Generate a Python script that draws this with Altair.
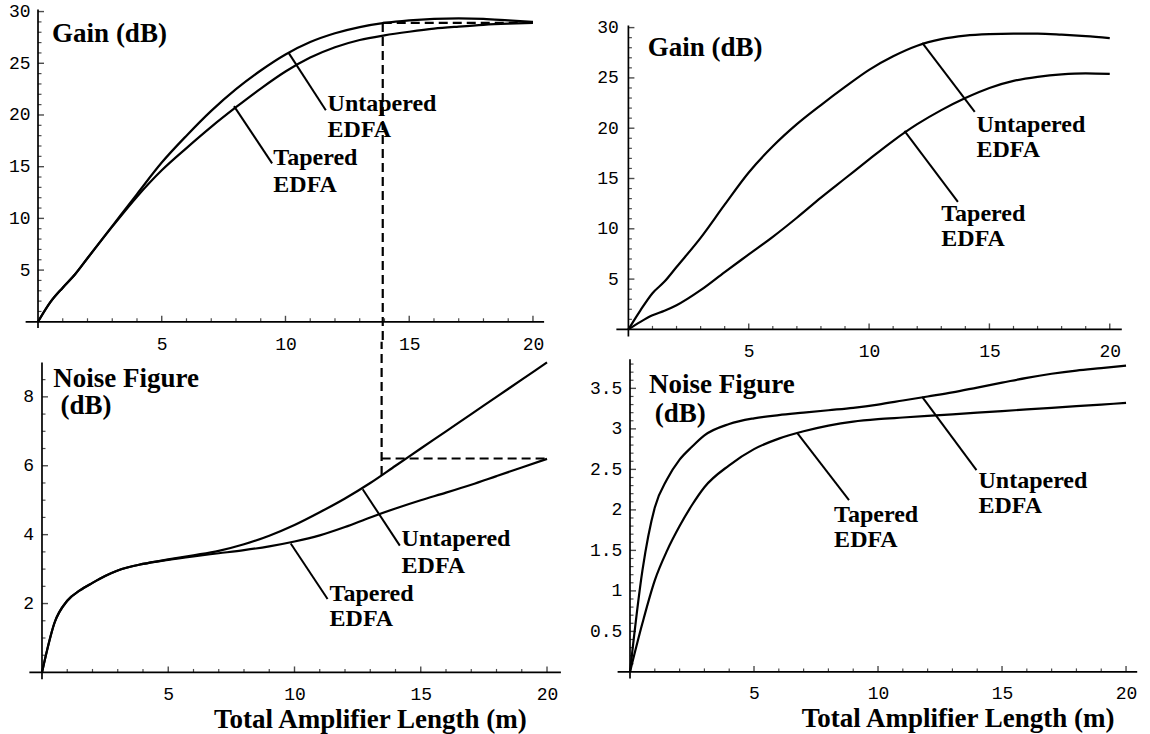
import altair as alt
import pandas as pd

SERIF = "Liberation Serif"
MONO = "Liberation Mono"

# ---------------- data ----------------
# Top-left: Gain (dB) vs total amplifier length (m)
gl_x = [0, 0.5, 1, 1.5, 2, 3, 4, 5, 6, 7, 8, 9, 10, 11, 12, 13, 14, 15, 16, 17, 18, 19, 20]
gl_untapered = [0, 1.9, 3.3, 4.6, 6.15, 9.25, 12.35, 15.4, 18.0, 20.4, 22.5, 24.3, 25.85, 27.05,
                27.9, 28.5, 28.9, 29.15, 29.3, 29.35, 29.3, 29.15, 29.0]
gl_tapered = [0, 1.9, 3.3, 4.6, 6.15, 9.2, 12.1, 14.65, 16.8, 18.85, 20.75, 22.55, 24.2, 25.55,
              26.55, 27.25, 27.7, 28.05, 28.35, 28.55, 28.72, 28.83, 28.9]

# Bottom-left: Noise figure (dB)
nl_x = [0, 0.5, 1, 1.5, 2, 2.5, 3, 4, 5, 6, 7, 8, 9, 10, 11, 12, 13, 14, 15, 16, 17, 18, 19, 20]
nl_untapered = [0, 1.45, 2.08, 2.38, 2.6, 2.8, 2.96, 3.15, 3.28, 3.4, 3.53, 3.72, 3.97, 4.28, 4.65,
                5.05, 5.5, 6.0, 6.5, 7.0, 7.5, 8.0, 8.5, 9.0]
nl_tapered = [0, 1.45, 2.08, 2.38, 2.6, 2.8, 2.96, 3.15, 3.27, 3.37, 3.46, 3.55, 3.66, 3.8, 3.98,
              4.22, 4.5, 4.76, 5.0, 5.22, 5.45, 5.7, 5.95, 6.2]

# Top-right: Gain (dB)
gr_x = [0, 0.5, 1, 1.5, 2, 3, 4, 5, 6, 7, 8, 9, 10, 11, 12, 13, 14, 15, 16, 17, 18, 19, 20]
gr_untapered = [0, 1.9, 3.6, 4.75, 6.2, 9.1, 12.4, 15.6, 18.2, 20.4, 22.3, 24.1, 25.8, 27.15,
                28.2, 28.85, 29.2, 29.35, 29.4, 29.4, 29.3, 29.15, 28.95]
gr_tapered = [0, 0.75, 1.4, 1.85, 2.4, 3.9, 5.7, 7.45, 9.2, 11.1, 13.1, 15.0, 16.9, 18.75, 20.4,
              21.8, 23.0, 24.0, 24.7, 25.1, 25.35, 25.45, 25.4]

# Bottom-right: Noise figure (dB)
nr_x = [0, 0.5, 1, 1.5, 2, 2.5, 3, 4, 5, 6, 7, 8, 9, 10, 11, 12, 13, 14, 15, 16, 17, 18, 19, 20]
nr_untapered = [0, 1.25, 2.03, 2.38, 2.62, 2.78, 2.92, 3.06, 3.13, 3.17, 3.2, 3.23, 3.26, 3.3,
                3.35, 3.4, 3.45, 3.51, 3.57, 3.63, 3.68, 3.72, 3.75, 3.78]
nr_tapered = [0, 0.6, 1.13, 1.5, 1.8, 2.06, 2.28, 2.55, 2.75, 2.88, 2.97, 3.04, 3.09, 3.12, 3.14,
              3.16, 3.18, 3.2, 3.22, 3.24, 3.26, 3.28, 3.3, 3.32]

# tick values
x_major = [5, 10, 15, 20]
x_minor = [v for v in range(1, 21) if v % 5]
gain_major = [5, 10, 15, 20, 25, 30]
gain_minor = [v for v in range(1, 31) if v % 5]
nfl_major = [2, 4, 6, 8]
nfl_minor = [v / 2 for v in range(1, 18) if v % 4]
nfr_major = [0.5, 1, 1.5, 2, 2.5, 3, 3.5]
nfr_minor = [v / 10 for v in range(1, 39) if v % 5]

# optimum-length guide (dashed): gain panel / noise panel
opt_len_gain = 13.93
opt_len_nf = 13.45
opt_gain = 28.9
opt_nf = 6.21
nf_at_opt = 5.73


def curves_df(xs, unt, tap):
    rows = [{"x": a, "y": b, "series": "Untapered"} for a, b in zip(xs, unt)]
    rows += [{"x": a, "y": b, "series": "Tapered"} for a, b in zip(xs, tap)]
    return pd.DataFrame(rows)


def panel(df, xdom, ydom, w, h, xmaj, xmin, ymaj, ymin, xline, yline,
          heads, notes, leaders, dashes=None, axis_title=None, xlabpad=14, ylabpad=8):
    xs = alt.Scale(domain=xdom, nice=False, zero=False)
    ys = alt.Scale(domain=ydom, nice=False, zero=False)
    common = dict(title=None, domain=False, ticks=False, tickSize=0, grid=False,
                  labelFont=MONO, labelFontSize=18, labelColor="black", format="~g",
                  labelFlush=False, labelOverlap=False)
    X = alt.X("x:Q", scale=xs, axis=alt.Axis(values=xmaj, labelPadding=xlabpad, **common))
    Y = alt.Y("y:Q", scale=ys, axis=alt.Axis(values=ymaj, labelPadding=ylabpad, **common))

    layers = []
    layers.append(alt.Chart(df).mark_line(color="black", strokeWidth=2.2, interpolate="monotone")
                  .encode(x=X, y=Y, detail="series:N"))
    # axis lines
    ax = pd.DataFrame([
        {"x": xline[0], "x2": xline[1], "y": 0, "y2": 0},
        {"x": 0, "x2": 0, "y": yline[0], "y2": yline[1]},
    ])
    layers.append(alt.Chart(ax).mark_rule(color="black", strokeWidth=1.7)
                  .encode(x=X, y=Y, x2="x2:Q", y2="y2:Q"))
    # ticks (pointing inward)
    layers.append(alt.Chart(pd.DataFrame({"x": xmaj, "y": 0})).mark_tick(
        orient="vertical", size=6, thickness=1.4, color="black", yOffset=-3).encode(x=X, y=Y))
    layers.append(alt.Chart(pd.DataFrame({"x": xmin, "y": 0})).mark_tick(
        orient="vertical", size=3.5, thickness=1.2, color="black", yOffset=-1.75).encode(x=X, y=Y))
    layers.append(alt.Chart(pd.DataFrame({"x": 0, "y": ymaj})).mark_tick(
        orient="horizontal", size=6, thickness=1.4, color="black", xOffset=3).encode(x=X, y=Y))
    layers.append(alt.Chart(pd.DataFrame({"x": 0, "y": ymin})).mark_tick(
        orient="horizontal", size=3.5, thickness=1.2, color="black", xOffset=1.75).encode(x=X, y=Y))
    # leader lines
    layers.append(alt.Chart(pd.DataFrame(leaders)).mark_rule(color="black", strokeWidth=2)
                  .encode(x=X, y=Y, x2="x2:Q", y2="y2:Q"))
    if dashes:
        layers.append(alt.Chart(pd.DataFrame(dashes)).mark_rule(
            color="black", strokeWidth=2.2, strokeDash=[9, 5])
            .encode(x=X, y=Y, x2="x2:Q", y2="y2:Q"))
    layers.append(alt.Chart(pd.DataFrame(heads)).mark_text(
        align="left", baseline="alphabetic", font=SERIF, fontWeight="bold", fontSize=27,
        color="black").encode(x=X, y=Y, text="text:N"))
    layers.append(alt.Chart(pd.DataFrame(notes)).mark_text(
        align="left", baseline="alphabetic", font=SERIF, fontWeight="bold", fontSize=24,
        color="black").encode(x=X, y=Y, text="text:N"))
    if axis_title:
        layers.append(alt.Chart(pd.DataFrame([axis_title])).mark_text(
            align="center", baseline="alphabetic", font=SERIF, fontWeight="bold", fontSize=27,
            color="black").encode(x=X, y=Y, text="text:N"))
    return alt.layer(*layers).properties(width=w, height=h)


TL = panel(
    curves_df(gl_x, gl_untapered, gl_tapered),
    xdom=[0, 20.45], ydom=[0, 30.2], w=506.1, h=312.3,
    xmaj=x_major, xmin=x_minor, ymaj=gain_major, ymin=gain_minor,
    xline=[-0.5, 20.45], yline=[-0.6, 30.2],
    heads=[{"x": 0.57, "y": 27.08, "text": "Gain (dB)"}],
    notes=[{"x": 11.7, "y": 20.4, "text": "Untapered"},
           {"x": 11.7, "y": 17.9, "text": "EDFA"},
           {"x": 9.51, "y": 15.15, "text": "Tapered"},
           {"x": 9.51, "y": 12.57, "text": "EDFA"}],
    leaders=[{"x": 10.14, "y": 25.96, "x2": 11.63, "y2": 20.45},
             {"x": 7.92, "y": 20.86, "x2": 9.46, "y2": 15.32}],
    dashes=[{"x": opt_len_gain, "y": opt_gain, "x2": opt_len_gain, "y2": -1.87},
            {"x": opt_len_gain, "y": opt_gain, "x2": 20, "y2": opt_gain}],
    xlabpad=14, ylabpad=8,
)

BL = panel(
    curves_df(nl_x, nl_untapered, nl_tapered),
    xdom=[-0.158, 20.55], ydom=[0, 9.0], w=522.9, h=310.05,
    xmaj=x_major, xmin=x_minor, ymaj=nfl_major, ymin=nfl_minor,
    xline=[-0.5, 20.55], yline=[-0.2, 9.0],
    heads=[{"x": 0.45, "y": 8.29, "text": "Noise Figure"},
           {"x": 0.73, "y": 7.5, "text": "(dB)"}],
    notes=[{"x": 14.24, "y": 3.68, "text": "Untapered"},
           {"x": 14.24, "y": 2.9, "text": "EDFA"},
           {"x": 11.39, "y": 2.08, "text": "Tapered"},
           {"x": 11.39, "y": 1.355, "text": "EDFA"}],
    leaders=[{"x": 12.7, "y": 5.32, "x2": 14.17, "y2": 3.68},
             {"x": 9.85, "y": 3.745, "x2": 11.31, "y2": 2.13}],
    dashes=[{"x": opt_len_nf, "y": nf_at_opt, "x2": opt_len_nf, "y2": 9.6},
            {"x": opt_len_nf, "y": opt_nf, "x2": 20, "y2": opt_nf}],
    axis_title={"x": 13.0, "y": -1.605, "text": "Total Amplifier Length (m)"},
    xlabpad=13.5, ylabpad=4.5,
)

TR = panel(
    curves_df(gr_x, gr_untapered, gr_tapered),
    xdom=[0, 20.5], ydom=[0, 31.8], w=493.4, h=319.9,
    xmaj=x_major, xmin=x_minor, ymaj=gain_major, ymin=gain_minor,
    xline=[-0.5, 20.5], yline=[-0.7, 30.2],
    heads=[{"x": 0.8, "y": 27.13, "text": "Gain (dB)"}],
    notes=[{"x": 14.46, "y": 19.64, "text": "Untapered"},
           {"x": 14.46, "y": 17.16, "text": "EDFA"},
           {"x": 13.0, "y": 10.8, "text": "Tapered"},
           {"x": 13.0, "y": 8.28, "text": "EDFA"}],
    leaders=[{"x": 12.21, "y": 28.49, "x2": 14.39, "y2": 21.63},
             {"x": 11.47, "y": 19.74, "x2": 13.69, "y2": 12.68}],
    xlabpad=13.5, ylabpad=10,
)

BR = panel(
    curves_df(nr_x, nr_untapered, nr_tapered),
    xdom=[-0.0645, 20.45], ydom=[0, 3.86], w=508.8, h=312.7,
    xmaj=x_major, xmin=x_minor, ymaj=nfr_major, ymin=nfr_minor,
    xline=[-0.5, 20.45], yline=[-0.08, 3.86],
    heads=[{"x": 0.77, "y": 3.437, "text": "Noise Figure"},
           {"x": 1.0, "y": 3.086, "text": "(dB)"}],
    notes=[{"x": 14.05, "y": 2.264, "text": "Untapered"},
           {"x": 14.05, "y": 1.96, "text": "EDFA"},
           {"x": 8.23, "y": 1.852, "text": "Tapered"},
           {"x": 8.23, "y": 1.543, "text": "EDFA"}],
    leaders=[{"x": 11.78, "y": 3.395, "x2": 13.97, "y2": 2.49},
             {"x": 6.74, "y": 2.95, "x2": 8.83, "y2": 2.12}],
    axis_title={"x": 13.23, "y": -0.683, "text": "Total Amplifier Length (m)"},
    xlabpad=13, ylabpad=6.5,
)

left = alt.vconcat(TL, BL, spacing=39.9, bounds="flush")
right = alt.vconcat(TR, BR, spacing=29.7, bounds="flush")
chart = (
    alt.hconcat(left, right, spacing=27.4)
    .properties(padding={"left": 8, "top": 2.5, "right": 5, "bottom": 0}, background="white")
    .configure_view(stroke=None)
)

chart.save("out.html", embed_options={"renderer": "svg", "actions": False})
